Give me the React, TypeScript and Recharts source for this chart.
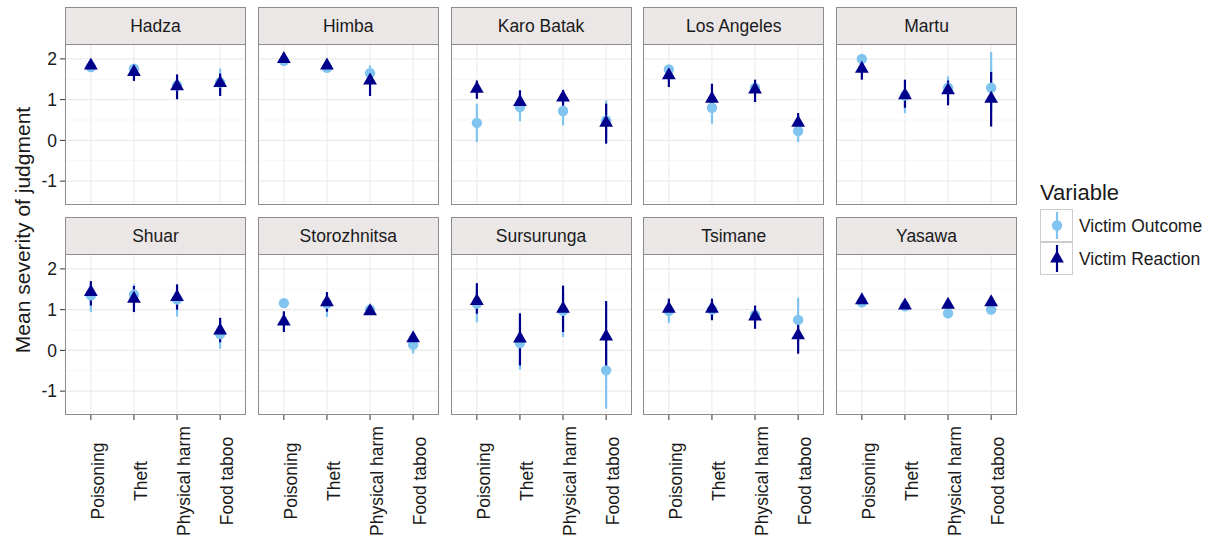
import React from 'react'
import {
  ScatterChart,
  Scatter,
  XAxis,
  YAxis,
  ErrorBar,
  ReferenceLine,
} from 'recharts'

const societies = [
  'Hadza', 'Himba', 'Karo Batak', 'Los Angeles', 'Martu',
  'Shuar', 'Storozhnitsa', 'Sursurunga', 'Tsimane', 'Yasawa',
]
const categories = ['Poisoning', 'Theft', 'Physical harm', 'Food taboo']
const yTicks = [-1, 0, 1, 2]
const yMinor = [-1.5, -0.5, 0.5, 1.5]

// Victim Outcome: one row per society, one column per category
const outcomeMean = [
  [1.80, 1.76, 1.35, 1.42],
  [1.95, 1.78, 1.65, null],
  [0.43, 0.82, 0.72, 0.49],
  [1.74, 0.80, 1.29, 0.23],
  [2.00, 1.10, 1.29, 1.29],
  [1.35, 1.37, 1.25, 0.40],
  [1.16, 1.15, 1.00, 0.14],
  [1.15, 0.18, 0.97, -0.49],
  [0.97, 1.00, 0.87, 0.75],
  [1.18, 1.08, 0.91, 1.00],
]
const outcomeLow = [
  [1.72, 1.55, 1.20, 1.15],
  [1.90, 1.72, 1.45, null],
  [-0.04, 0.47, 0.37, 0.05],
  [1.55, 0.41, 1.10, -0.04],
  [1.80, 0.67, 1.00, 0.70],
  [0.94, 1.05, 0.83, 0.04],
  [1.05, 0.82, 0.90, -0.08],
  [0.69, -0.47, 0.33, -1.43],
  [0.67, 0.85, 0.70, 0.20],
  [1.12, 1.02, 0.85, 0.94],
]
const outcomeHigh = [
  [1.88, 1.84, 1.50, 1.76],
  [2.00, 1.84, 1.84, null],
  [0.90, 1.15, 1.05, 0.98],
  [1.85, 1.15, 1.45, 0.45],
  [2.10, 1.40, 1.57, 2.17],
  [1.60, 1.62, 1.55, 0.70],
  [1.25, 1.35, 1.08, 0.30],
  [1.50, 0.80, 1.40, 0.45],
  [1.15, 1.15, 1.00, 1.29],
  [1.24, 1.14, 0.97, 1.06],
]

// Victim Reaction
const reactionMean = [
  [1.84, 1.68, 1.33, 1.41],
  [2.00, 1.84, 1.47, null],
  [1.27, 0.94, 1.05, 0.43],
  [1.60, 1.02, 1.25, 0.43],
  [1.76, 1.11, 1.23, 1.02],
  [1.43, 1.27, 1.31, 0.49],
  [0.71, 1.18, 0.96, 0.30],
  [1.21, 0.29, 1.02, 0.34],
  [1.02, 1.02, 0.83, 0.37],
  [1.23, 1.10, 1.12, 1.18],
]
const reactionLow = [
  [1.74, 1.46, 1.01, 1.09],
  [1.92, 1.74, 1.09, null],
  [1.02, 0.74, 0.85, -0.08],
  [1.31, 0.70, 0.94, 0.25],
  [1.49, 0.80, 0.86, 0.34],
  [1.10, 0.94, 1.00, 0.20],
  [0.45, 0.95, 0.88, 0.15],
  [0.90, -0.37, 0.45, -0.45],
  [0.85, 0.74, 0.53, -0.08],
  [1.18, 1.05, 1.06, 1.12],
]
const reactionHigh = [
  [1.94, 1.84, 1.62, 1.64],
  [2.06, 1.92, 1.68, null],
  [1.47, 1.23, 1.24, 0.90],
  [1.75, 1.39, 1.49, 0.67],
  [1.95, 1.49, 1.47, 1.68],
  [1.70, 1.58, 1.62, 0.80],
  [0.96, 1.43, 1.05, 0.40],
  [1.65, 0.91, 1.59, 1.21],
  [1.27, 1.27, 1.10, 0.70],
  [1.28, 1.15, 1.18, 1.24],
]

const LIGHT = '#80c4ef'
const DARK = '#00008b'
const FONT = '"Liberation Sans", Arial, Helvetica, sans-serif'
const TEXT = '#1a1a1a'
const BORDER = '#8c8c8c'

const PANEL_W = 181
const PANEL_H = 161
const STRIP_H = 37
const LEFT0 = 65
const COL_STEP = 192.75
const ROW_TOP = [44, 254]

function buildRows(mean: any[][], lo: any[][], hi: any[][], s: number) {
  return categories
    .map((c, i) => ({
      x: i + 1,
      name: c,
      y: mean[s][i],
      err: [mean[s][i] - lo[s][i], hi[s][i] - mean[s][i]],
    }))
    .filter(d => d.y != null)
}

const NoShape = () => <g />

const Dot = (props: any) => <circle cx={props.cx} cy={props.cy} r={5.2} fill={LIGHT} />

const Tri = (props: any) => {
  const { cx, cy } = props
  return (
    <polygon
      points={`${cx},${cy - 8} ${cx - 6.9},${cy + 4} ${cx + 6.9},${cy + 4}`}
      fill={DARK}
    />
  )
}

const XTick = (props: any) => {
  const { x, y, payload } = props
  return (
    <text
      transform={`translate(${x + 7},${y + 61}) rotate(-90)`}
      textAnchor="middle"
      dominantBaseline="central"
      fill={TEXT}
      fontSize={17.5}
      fontFamily={FONT}
    >
      {categories[payload.value - 1]}
    </text>
  )
}

function Panel({ s }: { s: number }) {
  const col = s % 5
  const row = Math.floor(s / 5)
  const showY = col === 0
  const showX = row === 1
  const yW = showY ? 35 : 0
  const xH = showX ? 126 : 0
  const left = LEFT0 + col * COL_STEP
  const top = ROW_TOP[row]
  const outcome = buildRows(outcomeMean, outcomeLow, outcomeHigh, s)
  const reaction = buildRows(reactionMean, reactionLow, reactionHigh, s)

  return (
    <>
      <div
        style={{
          position: 'absolute',
          left,
          top: top - STRIP_H,
          width: PANEL_W,
          height: STRIP_H,
          boxSizing: 'border-box',
          background: '#ebe7e7',
          border: `1px solid ${BORDER}`,
          borderBottom: 'none',
          color: TEXT,
          fontSize: 17.5,
          lineHeight: `${STRIP_H}px`,
          textAlign: 'center',
        }}
      >
        {societies[s]}
      </div>
      <div style={{ position: 'absolute', left: left - yW, top }}>
        <ScatterChart
          width={PANEL_W + yW}
          height={PANEL_H + xH}
          margin={{ top: 0, right: 0, bottom: 0, left: 0 }}
        >
          <XAxis
            type="number"
            dataKey="x"
            domain={[0.4, 4.6]}
            ticks={[1, 2, 3, 4]}
            interval={0}
            allowDataOverflow
            hide={!showX}
            height={xH}
            axisLine={false}
            tickSize={5}
            tickMargin={0}
            tickLine={{ stroke: '#333' }}
            tick={XTick}
          />
          <YAxis
            type="number"
            dataKey="y"
            domain={[-1.585, 2.365]}
            ticks={yTicks}
            interval={0}
            allowDataOverflow
            hide={!showY}
            width={yW}
            axisLine={false}
            tickSize={5}
            tickMargin={3}
            tickLine={{ stroke: '#333' }}
            tick={{ fill: TEXT, fontSize: 17.5, fontFamily: FONT }}
          />
          {yMinor.map(v => (
            <ReferenceLine key={`mi${v}`} y={v} stroke="#f4f4f4" strokeWidth={0.8} />
          ))}
          {yTicks.map(v => (
            <ReferenceLine key={`ma${v}`} y={v} stroke="#ebebeb" strokeWidth={1.1} />
          ))}
          {categories.map((c, i) => (
            <ReferenceLine key={c} x={i + 1} stroke="#ebebeb" strokeWidth={1.1} />
          ))}
          <Scatter data={outcome} shape={NoShape} isAnimationActive={false}>
            <ErrorBar dataKey="err" direction="y" width={0} stroke={LIGHT} strokeWidth={2.2} />
          </Scatter>
          <Scatter data={reaction} shape={NoShape} isAnimationActive={false}>
            <ErrorBar dataKey="err" direction="y" width={0} stroke={DARK} strokeWidth={2.2} />
          </Scatter>
          <Scatter data={outcome} shape={Dot} isAnimationActive={false} />
          <Scatter data={reaction} shape={Tri} isAnimationActive={false} />
        </ScatterChart>
      </div>
      <div
        style={{
          position: 'absolute',
          left,
          top,
          width: PANEL_W,
          height: PANEL_H,
          boxSizing: 'border-box',
          border: `1px solid ${BORDER}`,
          pointerEvents: 'none',
        }}
      />
    </>
  )
}

function Legend() {
  return (
    <svg style={{ position: 'absolute', left: 1030, top: 175 }} width={182} height={110}>
      <text x={10} y={25} fontSize={22} fontFamily={FONT} fill={TEXT}>Variable</text>
      <rect x={10.5} y={34.5} width={32} height={32} fill="#fff" stroke="#cccccc" />
      <line x1={27} y1={37} x2={27} y2={64} stroke={LIGHT} strokeWidth={2.2} />
      <circle cx={27} cy={50.5} r={5.2} fill={LIGHT} />
      <rect x={10.5} y={67.5} width={32} height={32} fill="#fff" stroke="#cccccc" />
      <line x1={27} y1={70} x2={27} y2={97} stroke={DARK} strokeWidth={2.2} />
      <polygon points="27,75.5 20.1,87.5 33.9,87.5" fill={DARK} />
      <text x={49} y={50.5} dominantBaseline="central" fontSize={17.5} fontFamily={FONT} fill={TEXT}>
        Victim Outcome
      </text>
      <text x={49} y={83.5} dominantBaseline="central" fontSize={17.5} fontFamily={FONT} fill={TEXT}>
        Victim Reaction
      </text>
    </svg>
  )
}

export default function App() {
  return (
    <div
      style={{
        position: 'absolute',
        left: 0,
        top: 0,
        width: 1212,
        height: 541,
        background: '#fff',
        fontFamily: FONT,
        overflow: 'hidden',
      }}
    >
      <svg style={{ position: 'absolute', left: 0, top: 0 }} width={45} height={541}>
        <text
          transform="translate(22,230) rotate(-90)"
          textAnchor="middle"
          dominantBaseline="central"
          fontSize={21}
          fontFamily={FONT}
          fill={TEXT}
        >
          Mean severity of judgment
        </text>
      </svg>
      {societies.map((name, s) => (
        <Panel key={name} s={s} />
      ))}
      <Legend />
    </div>
  )
}
